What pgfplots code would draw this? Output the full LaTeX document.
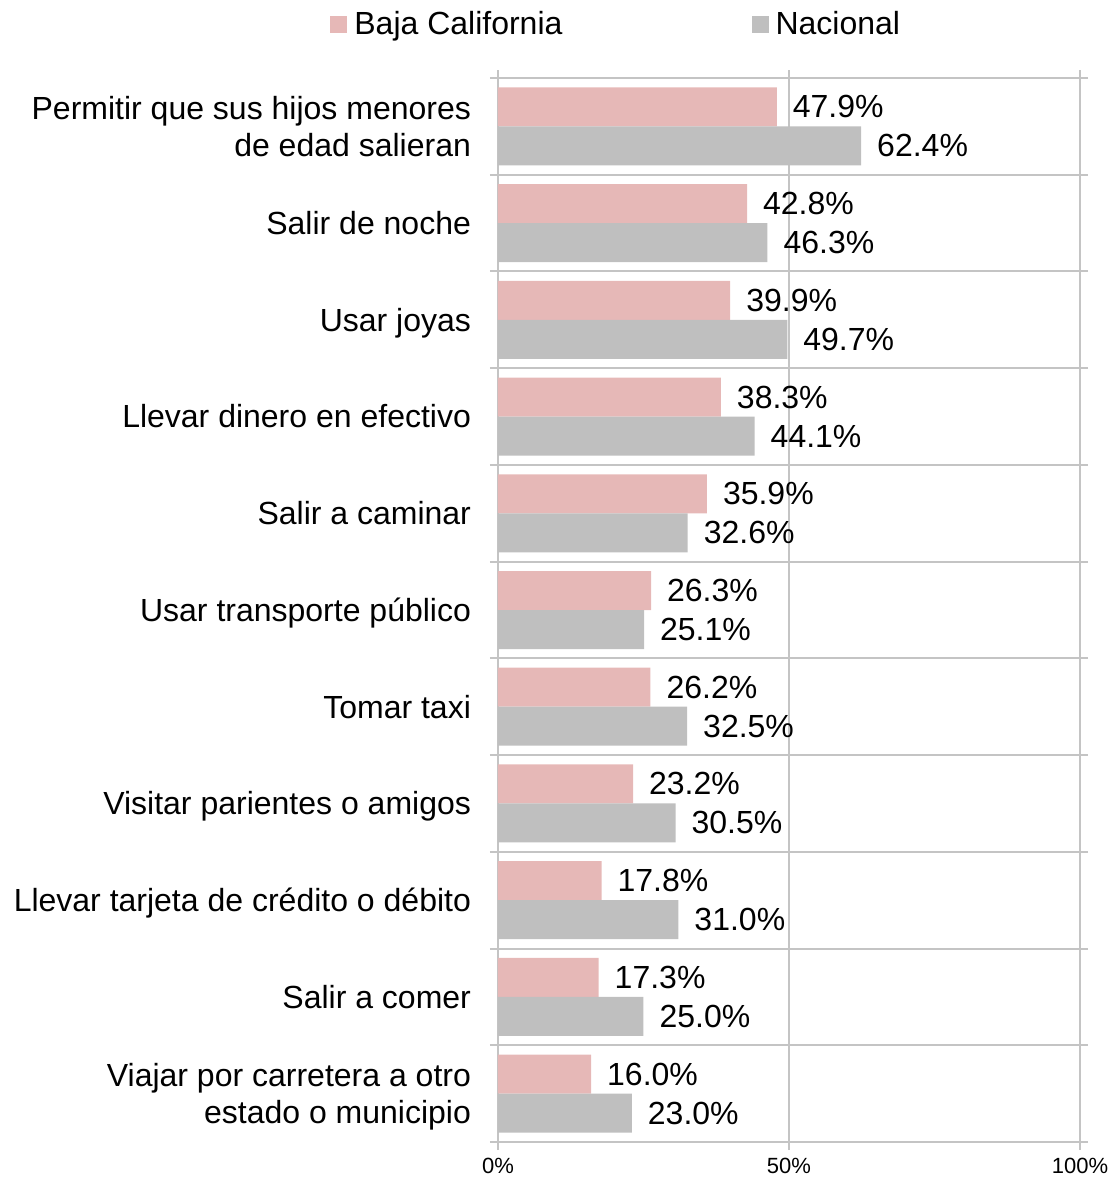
\documentclass[border=0pt]{standalone}
\usepackage{fontspec}
\setmainfont{Liberation Sans}
\usepackage{pgfplots}
\pgfplotsset{compat=1.18}
\definecolor{bcpink}{HTML}{E6B8B7}
\definecolor{natgray}{HTML}{BFBFBF}
\definecolor{gridgray}{HTML}{C4C4C4}
\pgfplotsset{/pgf/number format/assume math mode=true}
\newcommand{\bigfont}{\fontsize{16}{18.5}\selectfont}
% category label with equal height/depth whatever its letters
\newcommand{\cat}[1]{\strut#1\strut}
\begin{document}
\begin{tikzpicture}
\begin{axis}[
  name=ax,
  scale only axis, width=291pt, height=532pt,
  xbar, bar width=19.5pt,
  legend image code/.code={\fill[#1] (0pt,-4.25pt) rectangle (8.5pt,4.25pt); \path (10pt,0pt);},
  xmin=0, xmax=100, ymin=-0.5, ymax=10.5, y dir=reverse,
  axis line style={gridgray, line width=1pt},
  grid style={gridgray, line width=1pt},
  tick style={gridgray, line width=1pt},
  tick align=outside, major tick length=4pt,
  xtick={0,50,100}, xticklabels={0\%,50\%,100\%},
  xticklabel style={font=\fontsize{11}{12}\selectfont, yshift=-0.5pt},
  xmajorgrids,
  ytick={-0.5,0.5,...,10.5}, yticklabels={}, ymajorgrids,
  extra y ticks={0,1,2,3,4,5,6,7,8,9,10},
  extra y tick labels={
    {\cat{Permitir que sus hijos menores\\de edad salieran}},
    {\cat{Salir de noche}},
    {\cat{Usar joyas}},
    {\cat{Llevar dinero en efectivo}},
    {\cat{Salir a caminar}},
    {\cat{Usar transporte público}},
    {\cat{Tomar taxi}},
    {\cat{Visitar parientes o amigos}},
    {\cat{Llevar tarjeta de crédito o débito}},
    {\cat{Salir a comer}},
    {\cat{Viajar por carretera a otro\\estado o municipio}}},
  extra y tick style={major tick length=0pt, grid=none,
    yticklabel style={align=right, font=\bigfont, xshift=-10pt, yshift=-2pt}},
  nodes near coords={\pgfmathprintnumber[fixed,fixed zerofill,precision=1]{\pgfplotspointmeta}\%},
  every node near coord/.append style={anchor=west, font=\bigfont, black, xshift=4.5pt},
  legend columns=2,
  legend style={at={(0,1)}, anchor=west, xshift=-87pt, yshift=27pt,
    draw=none, fill=none, font=\bigfont,
    /tikz/every even column/.append style={column sep=92.5pt}},
]
% Baja California
\addplot[fill=bcpink, draw=none, bar shift=9.75pt] coordinates {
  (47.9,0) (42.8,1) (39.9,2) (38.3,3) (35.9,4) (26.3,5)
  (26.2,6) (23.2,7) (17.8,8) (17.3,9) (16.0,10)};
% Nacional
\addplot[fill=natgray, draw=none, bar shift=-9.75pt] coordinates {
  (62.4,0) (46.3,1) (49.7,2) (44.1,3) (32.6,4) (25.1,5)
  (32.5,6) (30.5,7) (31.0,8) (25.0,9) (23.0,10)};
\legend{Baja California, Nacional}
\end{axis}
\pgfresetboundingbox
\path ([xshift=-249pt,yshift=-17.5pt]ax.south west) rectangle ([xshift=306pt,yshift=571pt]ax.south west);
\end{tikzpicture}
\end{document}
